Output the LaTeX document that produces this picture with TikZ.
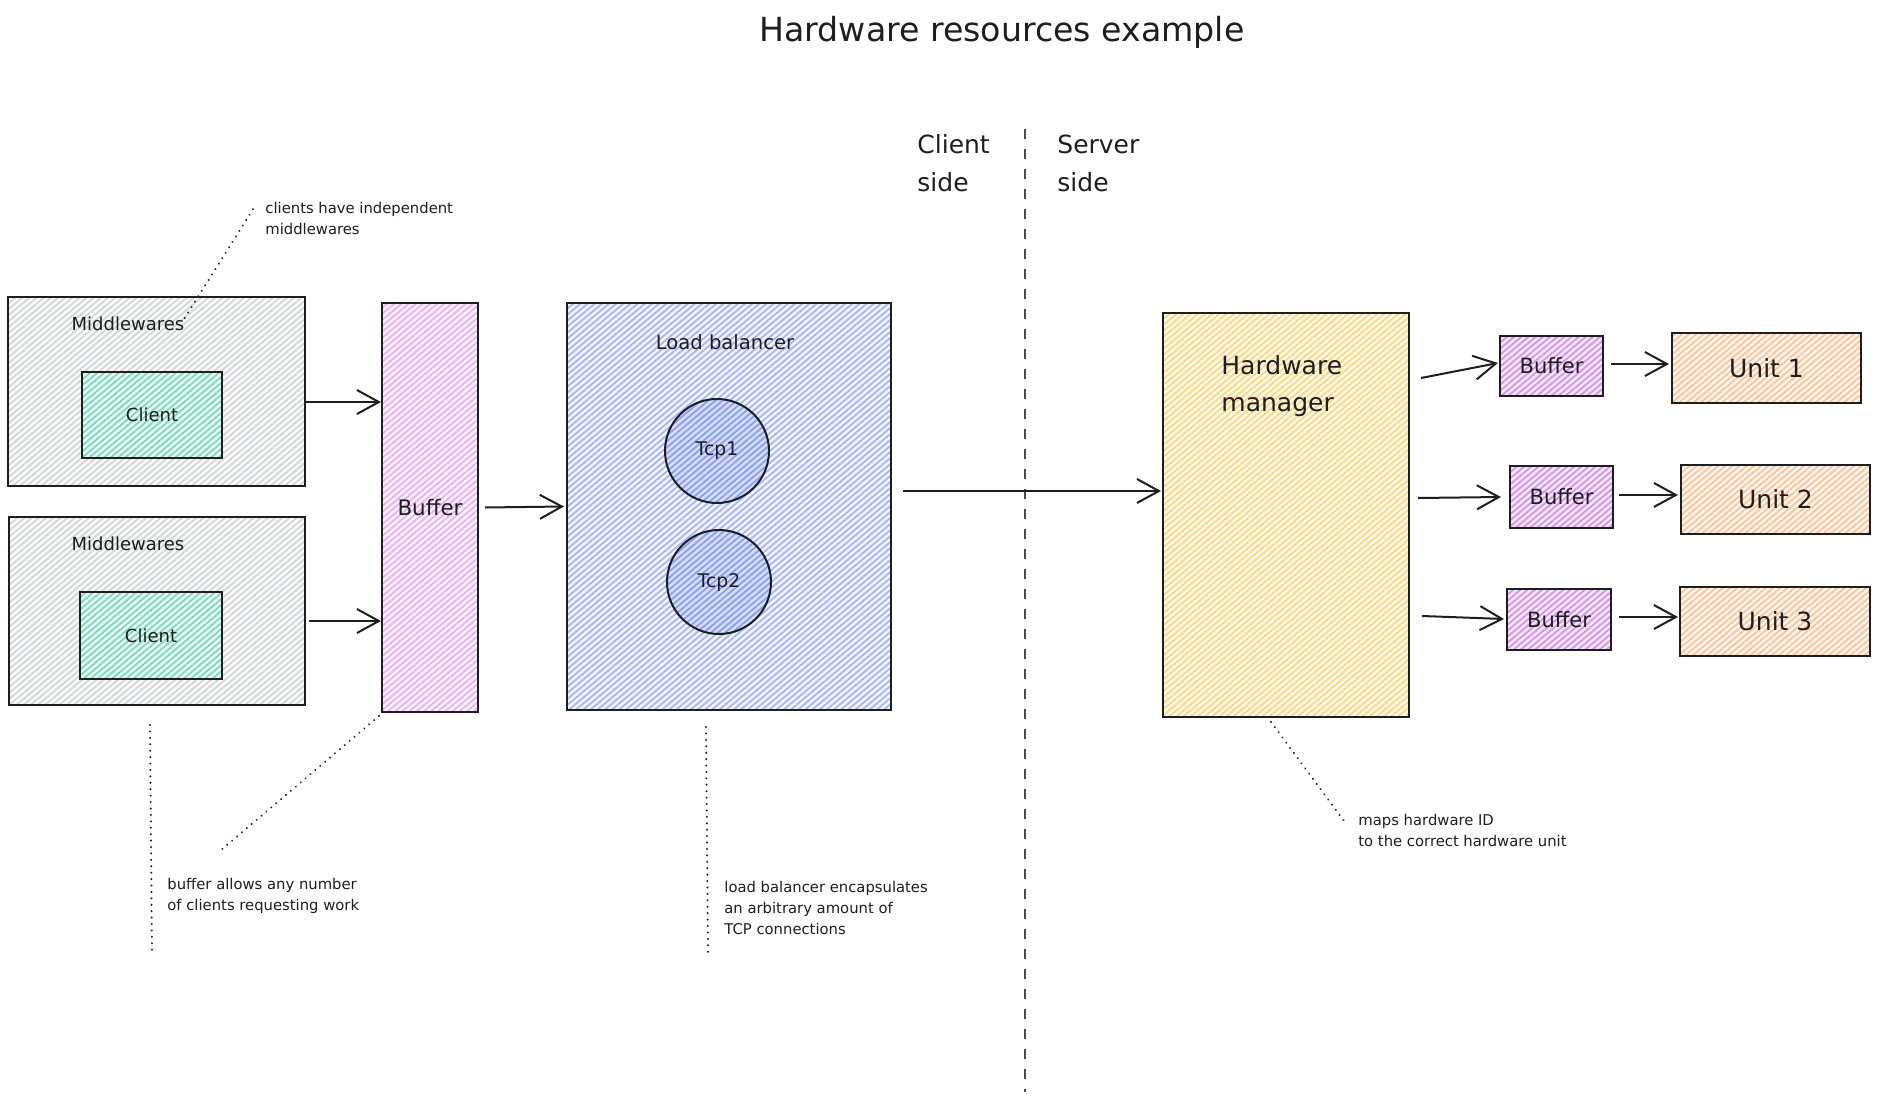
\documentclass[tikz,border=0pt]{standalone}
\usepackage{fontspec}
\setmainfont{DejaVu Sans}
\usetikzlibrary{arrows.meta,patterns.meta,calc}
\definecolor{ink}{HTML}{1E1E1E}
\definecolor{grayL}{HTML}{D3D6DA}\definecolor{grayF}{HTML}{FAFAFB}
\definecolor{tealL}{HTML}{7ADBB8}\definecolor{tealF}{HTML}{ECFAF4}
\definecolor{pinkL}{HTML}{EBAEF6}\definecolor{pinkF}{HTML}{FCF4FD}
\definecolor{indL}{HTML}{A7B6F8}\definecolor{indF}{HTML}{F3F5FE}
\definecolor{tcpL}{HTML}{8A9EF2}\definecolor{tcpF}{HTML}{D6DDFB}
\definecolor{yelL}{HTML}{FFD67E}\definecolor{yelF}{HTML}{FFFBEE}
\definecolor{purL}{HTML}{D394EC}\definecolor{purF}{HTML}{F5E6FA}
\definecolor{orL}{HTML}{FFC39A}\definecolor{orF}{HTML}{FFF6EE}
\begin{document}
\begin{tikzpicture}[x=0.5pt,y=-0.5pt,
  hatch/.style n args={2}{preaction={fill=#2},
     pattern={Lines[angle=40,distance=2.3pt,line width=0.9pt]}, pattern color=#1},
  box/.style={draw=ink, line width=1pt, inner sep=0pt, text=ink},
  fs/.style n args={2}{font=\fontsize{#1}{#2}\selectfont},
  lbl/.style={text=ink, inner sep=0pt},
  arr/.style={draw=ink, line width=1pt, -{Straight Barb[length=11pt,width=12pt,line width=1pt]}},
  dotline/.style={draw=ink, line width=1.1pt, dash pattern=on 0.01pt off 3.2pt, line cap=round},
  sepline/.style={draw=ink!80, line width=0.8pt, dash pattern=on 5pt off 5pt}
]
\useasboundingbox (0,0) rectangle (1880,1097);

% title
\node[lbl, fs={16.6}{20}] (title) at (1002,32) {Hardware resources example};

% separator
\coordinate (septop) at (1025,129);
\coordinate (sepbot) at (1025,1092);
\draw[sepline] (septop) -- (sepbot);
\node[lbl, fs={12.5}{19}, align=left, anchor=west] (cside) at (917,163) {Client\\side};
\node[lbl, fs={12.5}{19}, align=left, anchor=west] (sside) at (1057,163) {Server\\side};

% middlewares + clients
\node[box, hatch={grayL}{grayF}, minimum width=148.5pt, minimum height=94.5pt] (mw1) at (156.5,391.5) {};
\node[box, hatch={tealL}{tealF}, minimum width=70pt, minimum height=43pt, fs={9}{11}] (cl1) at (152,415) {Client};
\node[lbl, fs={9}{11}] (mwl1) at (128,324) {Middlewares};
\node[box, hatch={grayL}{grayF}, minimum width=148pt, minimum height=94pt] (mw2) at (157,611) {};
\node[box, hatch={tealL}{tealF}, minimum width=71pt, minimum height=43.5pt, fs={9}{11}] (cl2) at (151,635.5) {Client};
\node[lbl, fs={9}{11}] (mwl2) at (128,544) {Middlewares};

% buffer
\node[box, hatch={pinkL}{pinkF}, minimum width=48pt, minimum height=204.5pt, fs={10.7}{13}] (buf) at (430,507.5) {Buffer};

% load balancer
\node[box, hatch={indL}{indF}, minimum width=162pt, minimum height=203.5pt] (lb) at (729,506.5) {};
\node[lbl, fs={9.8}{12}] (lbl) at (725,342) {Load balancer};
\node[box, circle, hatch={tcpL}{tcpF}, minimum size=52pt, fs={9.4}{11}] (tcp1) at (717,451) {Tcp1};
\node[box, circle, hatch={tcpL}{tcpF}, minimum size=52pt, fs={9.4}{11}] (tcp2) at (719,582) {Tcp2};

% hardware manager
\node[box, hatch={yelL}{yelF}, minimum width=123pt, minimum height=202pt] (hm) at (1286,515) {};
\node[lbl, fs={12.5}{18.5}, align=left, anchor=west] (hml) at (1221,386) {Hardware\\manager};

% buffers and units
\node[box, hatch={purL}{purF}, minimum width=51.5pt, minimum height=30pt, fs={10.5}{12}] (b1) at (1551.5,366) {Buffer};
\node[box, hatch={purL}{purF}, minimum width=51.5pt, minimum height=31pt, fs={10.5}{12}] (b2) at (1561.5,497) {Buffer};
\node[box, hatch={purL}{purF}, minimum width=52pt, minimum height=30.5pt, fs={10.5}{12}] (b3) at (1559,619.5) {Buffer};
\node[box, hatch={orL}{orF}, minimum width=94.5pt, minimum height=35pt, fs={12.5}{15}] (u1) at (1766.5,368) {Unit 1};
\node[box, hatch={orL}{orF}, minimum width=94.5pt, minimum height=34.5pt, fs={12.5}{15}] (u2) at (1775.5,499.5) {Unit 2};
\node[box, hatch={orL}{orF}, minimum width=95pt, minimum height=34.5pt, fs={12.5}{15}] (u3) at (1775,621.5) {Unit 3};

% arrows
\draw[arr] ($(mw1.east)+(0,10.5)$) -- ($(buf.west |- mw1.east)+(0,10.5)$);
\draw[arr] ($(mw2.east)+(3,10)$) -- ($(buf.west |- mw2.east)+(0,10)$);
\draw[arr] ($(buf.east)+(6,0)$) -- ($(lb.west)+(-2,0)$);
\draw[arr] ($(lb.east)+(11,-15.5)$) -- ($(hm.west)+(-1,-24)$);
\draw[arr] ($(hm.east)+(11,-137)$) -- ($(b1.west)+(-1,-3)$);
\draw[arr] ($(hm.east)+(8,-17)$) -- ($(b2.west)+(-8,0)$);
\draw[arr] ($(hm.east)+(12,101)$) -- ($(b3.west)+(-2,-0.5)$);
\draw[arr] ($(b1.east)+(7,-2)$) -- ($(u1.west)+(-2,-4)$);
\draw[arr] ($(b2.east)+(5,-2)$) -- ($(u2.west)+(-2,-4.5)$);
\draw[arr] ($(b3.east)+(7,-2.5)$) -- ($(u3.west)+(-1,-4.5)$);

% annotations
\node[lbl, fs={7.4}{10.5}, align=left, anchor=west] (ann1) at (265,218) {clients have independent\\middlewares};
\node[lbl, fs={7.4}{10.5}, align=left, anchor=west] (ann2) at (167,896) {buffer allows any number\\of clients requesting work};
\node[lbl, fs={7.4}{10.5}, align=left, anchor=west] (ann3) at (724,908) {load balancer encapsulates\\an arbitrary amount of\\TCP connections};
\node[lbl, fs={7.4}{10.5}, align=left, anchor=west] (ann4) at (1358,830) {maps hardware ID\\to the correct hardware unit};

\draw[dotline] ($(mwl1.east)+(0,-6)$) -- ($(ann1.west)+(-10,-12)$);
\draw[dotline] ($(buf.south west)+(-2,3)$) -- ($(ann2.north west)+(53,-27)$);
\coordinate (v1a) at (150,725);
\coordinate (v1b) at (152,953);
\draw[dotline] (v1a) -- (v1b);
\coordinate (v2a) at (706,727);
\coordinate (v2b) at (708,953);
\draw[dotline] (v2a) -- (v2b);
\draw[dotline] ($(hm.south)+(-15,4)$) -- ($(ann4.west)+(-11,-5)$);
\end{tikzpicture}
\end{document}
